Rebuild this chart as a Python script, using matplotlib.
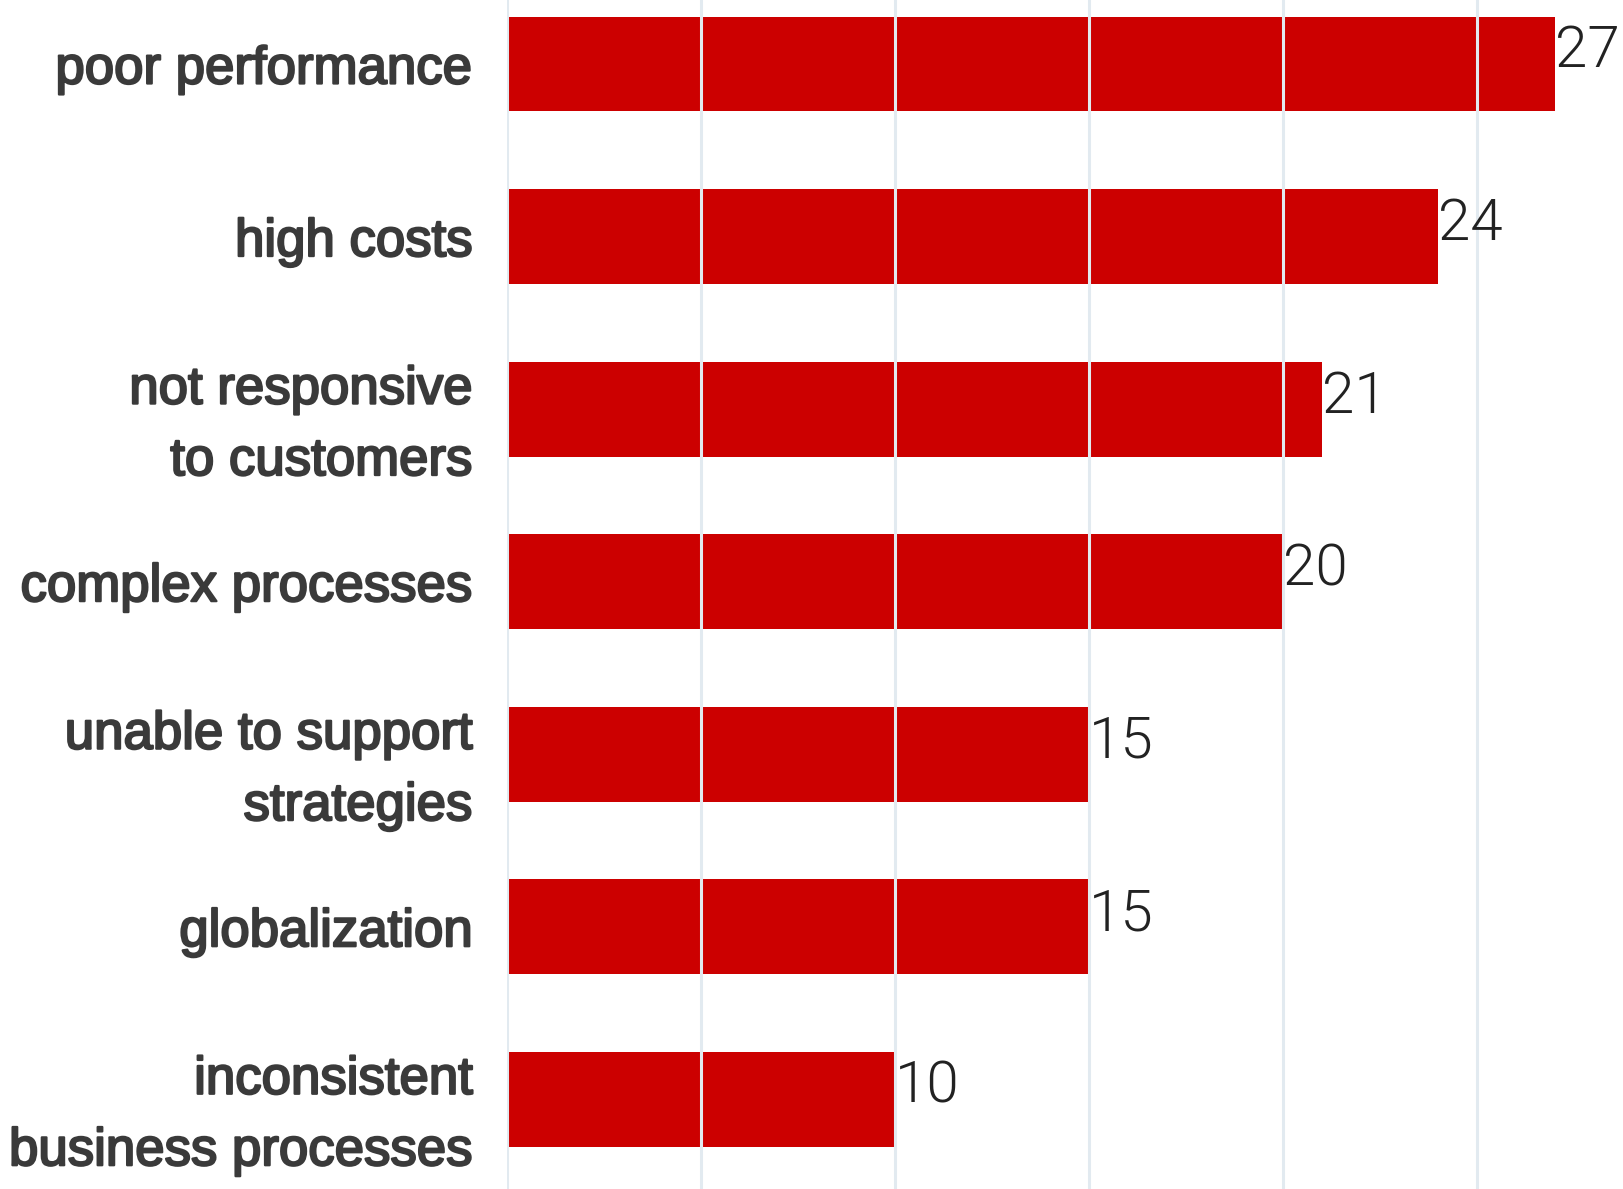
import matplotlib
matplotlib.use("Agg")
import matplotlib.pyplot as plt
import matplotlib.patheffects as pe

categories = [
    "poor performance",
    "high costs",
    "not responsive\nto customers",
    "complex processes",
    "unable to support\nstrategies",
    "globalization",
    "inconsistent\nbusiness processes",
]
values = [27, 24, 21, 20, 15, 15, 10]
grid_ticks = [0, 5, 10, 15, 20, 25]

W, H = 1623, 1189
fig = plt.figure(figsize=(W / 100, H / 100), dpi=100)
ax = fig.add_axes([507 / W, 0, 1 - 507 / W, 1])

pos = list(range(len(categories)))
ax.barh(pos, values, height=0.55, color="#cc0000", edgecolor="none", zorder=2)

ax.set_xlim(0, (W - 507) / 38.8)
ax.set_ylim(6.52, -0.371)

# vertical grid, drawn over the bars
for g in grid_ticks:
    ax.axvline(g, color="#e2eaf0", lw=2.2, zorder=3)

label_color = "#3a3a3a"
ax.set_yticks(pos)
ax.set_yticklabels(categories, fontsize=38, fontweight="normal", color=label_color,
                   family=["Liberation Sans", "DejaVu Sans"], linespacing=1.55)
for t in ax.get_yticklabels():
    t.set_path_effects([pe.withStroke(linewidth=1.6, foreground=label_color)])
ax.tick_params(axis="y", length=0, pad=25)
ax.set_xticks([])
for s in ax.spines.values():
    s.set_visible(False)

for p, v in zip(pos, values):
    ax.text(v, p - 0.07, f"{v}", ha="left", va="center", fontsize=42,
            color="#222222", fontweight=300,
            family=["Roboto", "DejaVu Sans"], zorder=4)

fig.savefig("out.png", dpi=100)
